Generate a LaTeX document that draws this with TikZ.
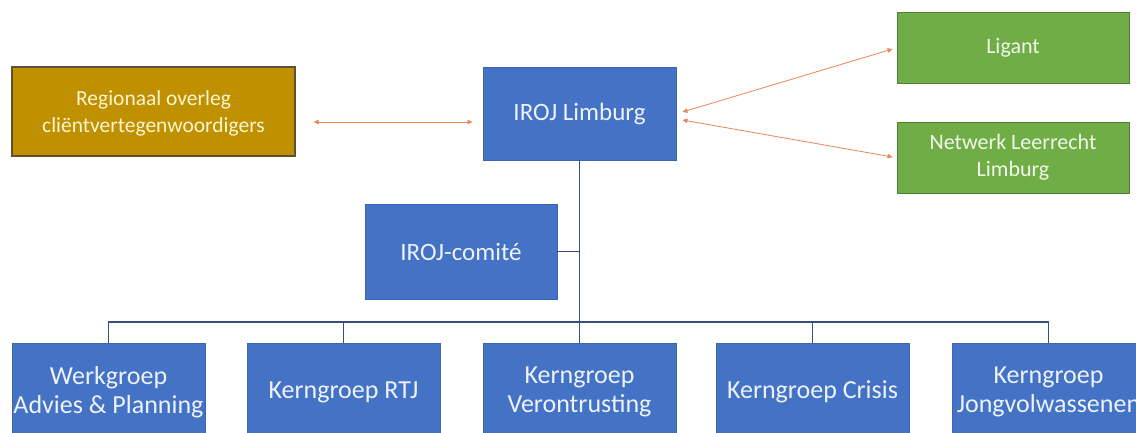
\documentclass[tikz,border=0pt]{standalone}
\usepackage{fontspec}
\setmainfont{Carlito}
\usetikzlibrary{arrows.meta,calc}
\definecolor{bluefill}{HTML}{4472C4}
\definecolor{blueline}{HTML}{3C66B4}
\definecolor{greenfill}{HTML}{70AD47}
\definecolor{greenline}{HTML}{507E32}
\definecolor{goldfill}{HTML}{BF9000}
\definecolor{goldline}{HTML}{5E5030}
\definecolor{conncol}{HTML}{34507E}
\definecolor{arrcol}{HTML}{E8865A}
\definecolor{bluetext}{HTML}{EDF2FB}
\definecolor{greentext}{HTML}{F0F8EA}
\definecolor{goldtext}{HTML}{FFF4D2}
\begin{document}
\begin{tikzpicture}[x=1pt,y=-1pt,
  basebox/.style={rectangle, inner sep=0pt, align=center, line width=0.9pt},
  bluebox/.style={basebox, fill=bluefill, draw=blueline, text=bluetext},
  greenbox/.style={basebox, fill=greenfill, draw=greenline, text=greentext,
    minimum width=232pt, minimum height=71pt, font=\fontsize{22}{27}\selectfont},
  goldbox/.style={basebox, fill=goldfill, draw=goldline, line width=1.3pt, text=goldtext},
  topbox/.style={bluebox, font=\fontsize{25}{30}\selectfont},
  groupbox/.style={bluebox, minimum width=193pt, minimum height=98pt,
    font=\fontsize{26}{29}\selectfont},
  conn/.style={draw=conncol, line width=1.1pt},
  arr/.style={draw=arrcol, line width=0.8pt,
    {Triangle[length=5pt,width=4.5pt]}-{Triangle[length=5pt,width=4.5pt]}}
]
\useasboundingbox (0,0) rectangle (1136,432);
\begin{scope}
\clip (0,0) rectangle (1136,432);

\node[goldbox, minimum width=283pt, minimum height=89pt, text depth=-3pt,
      font=\fontsize{21.5}{27}\selectfont] (reg) at (153.5,111.5)
  {Regionaal overleg\\cliëntvertegenwoordigers};
\node[topbox, minimum width=193pt, minimum height=93pt] (iroj) at (579.5,113.5) {IROJ Limburg};
\node[greenbox] (ligant) at (1013,47.5) {Ligant};
\node[greenbox] (netwerk) at (1013,157.5) {Netwerk Leerrecht\\Limburg};
\node[topbox, minimum width=192pt, minimum height=95pt] (comite) at (461,251.5) {IROJ-comité};

\node[groupbox] (b1) at (108.5,392) {Werkgroep\\Advies \& Planning};
\node[groupbox] (b2) at (343.5,392) {Kerngroep RTJ};
\node[groupbox] (b3) at (579.5,392) {Kerngroep\\Verontrusting};
\node[groupbox] (b4) at (812.5,392) {Kerngroep Crisis};
\node[groupbox] (b5) at (1048.5,392) {Kerngroep\\Jongvolwassenen};

\coordinate (bus) at (579.5,322);
\draw[conn] (iroj.south) -- (b3.north);
\draw[conn] (b1.north) -- (b1.north |- bus) -- (b5.north |- bus) -- (b5.north);
\draw[conn] (b2.north) -- (b2.north |- bus);
\draw[conn] (b4.north) -- (b4.north |- bus);
\draw[conn] (comite.east) -- (comite.east -| iroj.south);

\draw[arr] ($(reg.east)+(18,10.5)$) -- ($(iroj.west)+(-10,8.5)$);
\draw[arr] ($(iroj.east)+(6,-1.5)$) -- ($(ligant.west)+(-4,1.5)$);
\draw[arr] ($(iroj.east)+(6,6.5)$) -- ($(netwerk.west)+(-4,-0.5)$);
\end{scope}
\end{tikzpicture}
\end{document}
